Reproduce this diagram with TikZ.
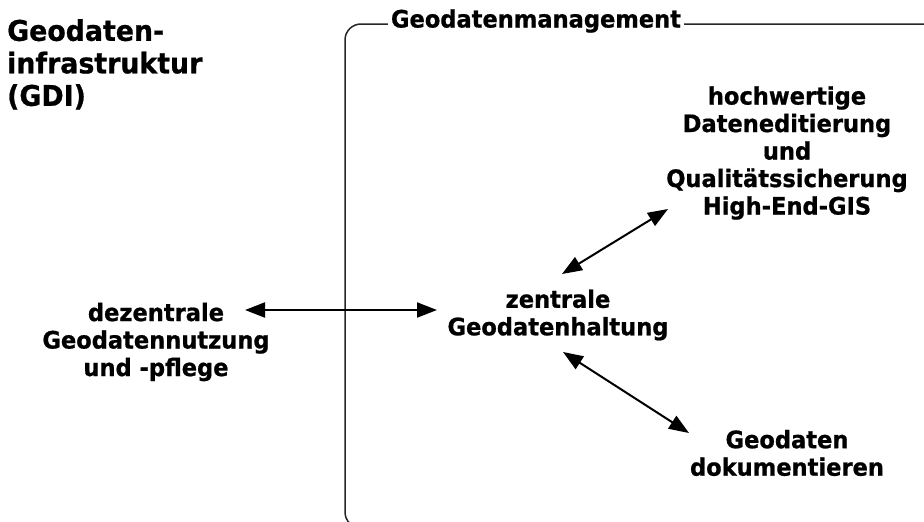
\documentclass[tikz,border=0pt]{standalone}
\usepackage{fontspec}
\setmainfont{DejaVu Sans}[FakeStretch=0.94, BoldFeatures={FakeBold=0.8}]
\usetikzlibrary{arrows.meta}
\tikzset{
  lbl/.style={font=\bfseries\fontsize{24}{27.5}\selectfont, align=center, inner sep=0pt},
  ttl/.style={font=\bfseries\fontsize{28.5}{32.5}\selectfont, align=left, inner sep=0pt, anchor=north west},
  dbl/.style={line width=2pt, {Triangle[length=20pt,width=15pt]}-{Triangle[length=20pt,width=15pt]}},
  frame/.style={draw=black!85, line width=1.5pt, rounded corners=16pt}
}
\begin{document}
\begin{tikzpicture}[x=1pt,y=-1pt]
\useasboundingbox (0,0) rectangle (924,522);
\begin{scope}
\clip (0,0) rectangle (924,522);
\draw[frame] (345,24) rectangle (938,528);
\end{scope}
\node[lbl, fill=white, inner xsep=3pt, inner ysep=2pt] (gm) at (536,21) {Geodatenmanagement};
\node[ttl] (gdi) at (7,19) {Geodaten-\\infrastruktur\\(GDI)};
\node[lbl] (dez) at (156,342) {dezentrale\\Geodatennutzung\\und -pflege};
\node[lbl] (zen) at (558,315) {zentrale\\Geodatenhaltung};
\node[lbl] (hoch) at (787,153) {hochwertige\\Dateneditierung\\und\\Qualitätssicherung\\High-End-GIS};
\node[lbl] (dok) at (787,453) {Geodaten\\dokumentieren};
\coordinate (h1) at (245,310);
\coordinate (h2) at (437,310);
\coordinate (u1) at (562,274);
\coordinate (u2) at (668,209);
\coordinate (l1) at (563,352);
\coordinate (l2) at (689,433);
\draw[dbl] (h1) -- (h2);
\draw[dbl] (u1) -- (u2);
\draw[dbl] (l1) -- (l2);
\end{tikzpicture}
\end{document}
